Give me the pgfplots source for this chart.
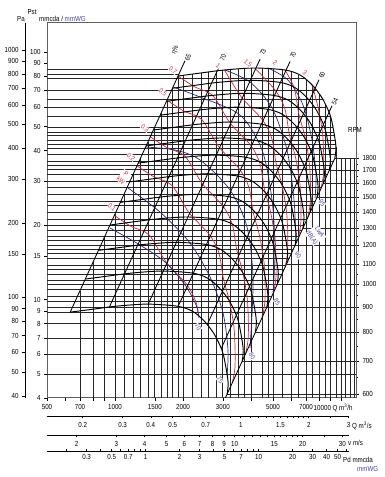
\documentclass[border=0pt]{standalone}
\usepackage{pgfplots}
\pgfplotsset{compat=1.18}
\usepackage{fontspec}
\setmainfont{Liberation Sans}[FakeStretch=0.85]
\definecolor{kwred}{RGB}{205,40,60}
\definecolor{dbblue}{RGB}{40,40,115}
\definecolor{lblue}{RGB}{70,70,150}
\definecolor{framec}{RGB}{95,95,95}
\pgfplotsset{
  gridl/.style={black!85, line width=0.7pt, forget plot, unbounded coords=jump},
  fanc/.style={black, line width=0.95pt, smooth, tension=0.5, forget plot},
  effl/.style={black, line width=0.85pt, forget plot},
  kwc/.style={kwred, line width=0.7pt, smooth, tension=0.5, forget plot},
  dbc/.style={dbblue, line width=0.7pt, smooth, tension=0.5, forget plot},
}
\tikzset{
  lab/.style={font=\fontsize{6.8}{7.2}\selectfont, inner sep=0.4pt, fill=white},
  kwlab/.style={lab, text=kwred, rotate=-40},
  efflab/.style={lab, text=black, rotate=65},
  dblab/.style={lab, text=lblue, rotate=-55},
  txt/.style={font=\fontsize{7.3}{8}\selectfont, inner sep=0pt},
}
\begin{document}
\begin{tikzpicture}
\path[use as bounding box] (0,0) rectangle (384pt,477pt);
% ---------------- main chart ----------------
\begin{axis}[
  at={(47pt,79pt)}, anchor=south west,
  scale only axis, width=309pt, height=375pt,
  xmode=log, ymode=log,
  xmin=500, xmax=11652, ymin=4, ymax=131,
  axis line style={framec, line width=1pt},
  tick pos=left, tick align=outside,
  major tick length=3pt,
  tick style={black, line width=0.6pt},
  xtick={500,600,700,800,900,1000,1500,2000,3000,4000,5000,6000,7000,8000,9000,10000},
  xticklabels={500,,700,,,1000,1500,2000,3000,,5000,,7000,,,},
  ytick={4,5,6,7,8,9,10,15,20,30,40,50,60,70,80,90,100},
  yticklabels={4,5,6,7,8,9,10,15,20,30,40,50,60,70,80,90,100},
  tick label style={font=\fontsize{7.3}{8}\selectfont},
  clip=false,
]
% horizontal pressure grid
\addplot[gridl] coordinates {
(500,85)(1780,85) (nan,nan) (500,81.5)(1918,81.5) (nan,nan) (500,78)(6911,78) (nan,nan)
(500,70)(7785,70) (nan,nan) (500,64.5)(8293,64.5) (nan,nan) (500,60)(8620,60) (nan,nan)
(500,55)(8972,55) (nan,nan) (500,49.5)(9221,49.5) (nan,nan) (500,47.5)(9312,47.5) (nan,nan)
(500,46)(9358,46) (nan,nan) (500,44)(9420,44) (nan,nan) (500,42.5)(9467,42.5) (nan,nan)
(500,41)(9497,41) (nan,nan) (500,38.5)(9436,38.5) (nan,nan) (500,36)(9242,36) (nan,nan)
(500,35)(9112,35) (nan,nan) (500,33.5)(8915,33.5) (nan,nan) (500,32)(8713,32) (nan,nan)
(500,30)(8436,30) (nan,nan) (500,28.5)(8223,28.5) (nan,nan) (500,26.5)(7929,26.5) (nan,nan)
(500,25)(7701,25) (nan,nan) (500,24)(7546,24) (nan,nan) (500,22.5)(7306,22.5) (nan,nan)
(500,21)(7058,21) (nan,nan) (500,20)(6888,20) (nan,nan) (500,19)(6714,19) (nan,nan)
(500,18)(6535,18) (nan,nan) (500,17.3)(6406,17.3) (nan,nan) (500,16.6)(6276,16.6) (nan,nan)
(500,16)(6161,16) (nan,nan) (500,15.3)(6025,15.3) (nan,nan) (500,14.6)(5885,14.6) (nan,nan)
(500,13.8)(5722,13.8) (nan,nan) (500,13.2)(5596,13.2) (nan,nan) (500,12.6)(5467,12.6) (nan,nan)
(500,12)(5336,12) (nan,nan) (500,11.5)(5223,11.5) (nan,nan) (500,11)(5109,11) (nan,nan)
(500,10.3)(4943,10.3) (nan,nan) (500,9.8)(4822,9.8) (nan,nan) (500,9.3)(4697,9.3) (nan,nan)
(500,8.9)(4595,8.9) (nan,nan) (500,8)(4357,8) (nan,nan) (500,7)(4075,7) (nan,nan)
(500,6)(3773,6) (nan,nan) (500,5)(11652,5)
};
% RPM lines to the right scale
\addplot[gridl] coordinates {
(9400,37.3)(11652,37.3) (nan,nan) (8878,33.27)(11652,33.27) (nan,nan) (8356,29.47)(11652,29.47) (nan,nan)
(7833,25.9)(11652,25.9) (nan,nan) (7311,22.56)(11652,22.56) (nan,nan) (6789,19.46)(11652,19.46) (nan,nan)
(6267,16.58)(11652,16.58) (nan,nan) (5744,13.93)(11652,13.93) (nan,nan) (5222,11.51)(11652,11.51) (nan,nan)
(4700,9.33)(11652,9.33) (nan,nan) (4178,7.37)(11652,7.37) (nan,nan) (3656,5.64)(11652,5.64) (nan,nan)
(3133,4.14)(11652,4.14)
};
% vertical flow grid
\addplot[gridl] coordinates {
(700,4)(700,10.86) (nan,nan) (800,4)(800,14.18) (nan,nan) (900,4)(900,17.95) (nan,nan)
(1000,4)(1000,22.16) (nan,nan) (1100,4)(1100,26.81) (nan,nan) (1200,4)(1200,31.91) (nan,nan)
(1300,4)(1300,37.45) (nan,nan) (1400,4)(1400,43.43) (nan,nan) (1500,4)(1500,49.86) (nan,nan)
(1600,4)(1600,56.73) (nan,nan) (1700,4)(1700,64.04) (nan,nan) (1800,4)(1800,71.8) (nan,nan)
(1900,4)(1900,80) (nan,nan) (2000,4)(2000,80.5) (nan,nan) (2200,4)(2200,81.4) (nan,nan)
(2400,4)(2400,82.3) (nan,nan) (2600,4)(2600,83) (nan,nan) (2800,4)(2800,83.7) (nan,nan)
(3000,4)(3000,84.4) (nan,nan) (3250,4)(3250,84.9) (nan,nan) (3500,4)(3500,85.3) (nan,nan)
(3750,4)(3750,85.6) (nan,nan) (4000,4)(4000,86) (nan,nan) (4500,4)(4500,85.9) (nan,nan)
(4750,4)(4750,85.8) (nan,nan) (5000,4)(5000,85.5) (nan,nan) (5500,4)(5500,84.9) (nan,nan)
(6000,4)(6000,83.2) (nan,nan) (6500,4)(6500,81.1) (nan,nan) (7000,4)(7000,77.4) (nan,nan)
(7500,4)(7500,73.1) (nan,nan) (8000,4)(8000,67.8) (nan,nan) (8500,4)(8500,61.8) (nan,nan)
(9000,4)(9000,54.5) (nan,nan) (9500,4)(9500,41.3) (nan,nan) (10000,4)(10000,37.3) (nan,nan)
(10500,4)(10500,37.3) (nan,nan) (11000,4)(11000,37.3) (nan,nan) (11500,4)(11500,37.3)
};
% power curves (kW)
\addplot[kwc] coordinates {(993,21.87) (1176,19.76) (1416,18.23) (1683,14.17) (2081,11.48) (2288,9.70) (2342,8.57)};
\addplot[kwc] coordinates {(1251,34.70) (1482,31.37) (1784,28.93) (2120,22.50) (2623,18.23) (2883,15.40) (3021,12.10) (3208,9.86) (3354,7.83) (3398,6.34) (3391,5.26) (3304,4.61)};
\addplot[kwc] coordinates {(1432,45.47) (1696,41.12) (2042,37.91) (2427,29.48) (3002,23.88) (3300,20.18) (3458,15.86) (3673,12.92) (3840,10.25) (3890,8.31) (3882,6.90) (3784,6.04)};
\addplot[kwc] coordinates {(1698,63.93) (2011,57.81) (2421,53.30) (2878,41.44) (3560,33.58) (3912,28.36) (4100,22.29) (4355,18.17) (4553,14.41) (4613,11.69) (4601,9.69) (4486,8.49)};
\addplot[kwc] coordinates {(1900,80) (2250,72.32) (2708,66.70) (3219,51.86) (3982,42.01) (4377,35.49) (4586,27.89) (4871,22.73) (5092,18.03) (5160,14.62) (5147,12.12) (5018,10.63)};
\addplot[kwc] coordinates {(3050,84.6) (3625,65.78) (4484,53.30) (4930,45.02) (5166,35.39) (5487,28.84) (5735,22.87) (5812,18.55) (5798,15.38) (5651,13.48)};
\addplot[kwc] coordinates {(4150,86.2) (5134,69.84) (5643,58.99) (5913,46.37) (6281,37.79) (6565,29.97) (6653,24.31) (6637,20.16) (6470,17.67)};
\addplot[kwc] coordinates {(5650,84.6) (6211,71.46) (6508,56.17) (6914,45.80) (7226,36.31) (7323,29.45) (7306,24.42) (7122,21.41)};
\addplot[kwc] coordinates {(7450,73.6) (7913,59.98) (8272,47.58) (8381,38.58) (8363,32.00) (8152,28.05)};
% noise curves (LwA dB(A))
\addplot[dbc] coordinates {(950,19.45) (1290,16.6) (1665,14.17) (2041,11.45) (2283,9.50) (2354,8.42)};
\addplot[dbc] coordinates {(1142,28.22) (1582,22.56) (2147,16.91) (2633,12.33) (3006,8.82) (3162,6.25) (3131,4.95)};
\addplot[dbc] coordinates {(1358,41.32) (1843,40.18) (2378,36.62) (3227,27.70) (3838,19.63) (4081,11.99) (3957,6.37)};
\addplot[dbc] coordinates {(1806,72.21) (2378,65.79) (3573,55.65) (4473,40.18) (4952,25.23) (5106,15.85) (5003,10.72)};
\addplot[dbc] coordinates {(3068,84.58) (3957,75.65) (4952,59.39) (5768,40.18) (6195,25.23) (6322,16.91)};
\addplot[dbc] coordinates {(4755,86.16) (5827,77.07) (6789,61.07) (7443,44.10) (7753,31.84) (7674,25.71)};
% efficiency (system) lines
\addplot[effl] coordinates {(633.3,8.89) (2041,92.3)};
\addplot[effl] coordinates {(942.3,9.29) (2916,88.9)};
\addplot[effl] coordinates {(1402,9.58) (4382,93.6)};
\addplot[effl] coordinates {(1903,9.38) (5949,91.6)};
\addplot[effl] coordinates {(2558,7.92) (7994,77.3)};
\addplot[effl] coordinates {(2950,6.34) (9126,60.7)};
\addplot[effl] coordinates {(3078,4) (9400,37.3)};
% fan curves 1800 ... 600 rpm
\addplot[fanc] coordinates {(1900,80) (2400,82.3) (3050,84.6) (4150,86.2) (5650,84.6) (6600,80.7) (7450,73.6) (8250,65.2) (8950,55.7) (9300,47.5) (9500,41.3) (9400,37.3)};
\addplot[fanc] coordinates {(1794,71.36) (2267,73.41) (2881,75.46) (3919,76.89) (5336,75.46) (6233,71.98) (7036,65.65) (7792,58.16) (8453,49.68) (8783,42.37) (8972,36.84) (8878,33.27)};
\addplot[fanc] coordinates {(1689,63.21) (2133,65.03) (2711,66.84) (3689,68.11) (5022,66.84) (5867,63.76) (6622,58.15) (7333,51.51) (7956,44.01) (8267,37.53) (8444,32.63) (8356,29.47)};
\addplot[fanc] coordinates {(1583,55.56) (2000,57.15) (2542,58.75) (3458,59.86) (4708,58.75) (5500,56.04) (6208,51.11) (6875,45.28) (7458,38.68) (7750,32.99) (7917,28.68) (7833,25.90)};
\addplot[fanc] coordinates {(1478,48.39) (1867,49.78) (2372,51.18) (3228,52.15) (4394,51.18) (5133,48.82) (5794,44.52) (6417,39.44) (6961,33.69) (7233,28.73) (7389,24.98) (7311,22.56)};
\addplot[fanc] coordinates {(1372,41.73) (1733,42.93) (2203,44.13) (2997,44.96) (4081,44.13) (4767,42.09) (5381,38.39) (5958,34.01) (6464,29.05) (6717,24.78) (6861,21.54) (6789,19.46)};
\addplot[fanc] coordinates {(1267,35.56) (1600,36.58) (2033,37.60) (2767,38.31) (3767,37.60) (4400,35.87) (4967,32.71) (5500,28.98) (5967,24.76) (6200,21.11) (6333,18.36) (6267,16.58)};
\addplot[fanc] coordinates {(1161,29.88) (1467,30.74) (1864,31.60) (2536,32.20) (3453,31.60) (4033,30.14) (4553,27.49) (5042,24.35) (5469,20.80) (5683,17.74) (5806,15.43) (5744,13.93)};
\addplot[fanc] coordinates {(1056,24.69) (1333,25.40) (1694,26.11) (2306,26.60) (3139,26.11) (3667,24.90) (4139,22.71) (4583,20.12) (4972,17.19) (5167,14.66) (5278,12.75) (5222,11.51)};
\addplot[fanc] coordinates {(950,20.0) (1200,20.58) (1525,21.15) (2075,21.55) (2825,21.15) (3300,20.18) (3725,18.4) (4125,16.3) (4475,13.93) (4650,11.88) (4750,10.33) (4700,9.33)};
\addplot[fanc] coordinates {(844,15.80) (1067,16.25) (1356,16.71) (1844,17.02) (2511,16.71) (2933,15.94) (3311,14.54) (3667,12.88) (3978,11.0) (4133,9.38) (4222,8.16) (4178,7.37)};
\addplot[fanc] coordinates {(739,12.10) (933,12.44) (1186,12.79) (1614,13.03) (2197,12.79) (2567,12.20) (2897,11.13) (3208,9.86) (3481,8.42) (3617,7.18) (3694,6.24) (3656,5.64)};
\addplot[fanc] coordinates {(633,8.89) (800,9.14) (1017,9.40) (1383,9.58) (1883,9.40) (2200,8.97) (2483,8.18) (2750,7.24) (2983,6.19) (3100,5.28) (3167,4.59) (3133,4.14)};
% labels
\node[kwlab] at (1806,84.6) {0.7};
\node[kwlab] at (1631,68.9) {0.5};
\node[kwlab] at (1357,49.3) {0.3};
\node[kwlab] at (1177,37.7) {0.2};
\node[kwlab, align=center] at (1090,31.2) {P\\[1pt]kW};
\node[kwlab] at (970,23.6) {0.1};
\node[kwlab] at (2856,87.8) {1};
\node[kwlab] at (3877,90.3) {1.5};
\node[kwlab] at (5105,90.3) {2};
\node[kwlab] at (6928,82.3) {3};
\node[efflab] at (1850,101.5) {η\%};
\node[efflab] at (2104,94.6) {65};
\node[efflab] at (3006,94.6) {70};
\node[efflab] at (4518,100) {73};
\node[efflab] at (6133,97.2) {70};
\node[efflab] at (8241,80.7) {60};
\node[efflab] at (9408,62.9) {54};
\node[dblab] at (8241,24.6) {95};
\node[dblab] at (6453,15.1) {90};
\node[dblab] at (5211,9.77) {85};
\node[dblab] at (4040,5.91) {80};
\node[dblab] at (2914,4.73) {75};
\node[dblab] at (2330,7.74) {70};
\node[dblab, align=center] at (7700,18.2) {LwA\\[2pt]dB(A)};
\end{axis}
% ---------------- RPM scale ----------------
\begin{axis}[
  at={(47pt,79pt)}, anchor=south west,
  scale only axis, width=309pt, height=375pt,
  ymode=log, ymin=589.4, ymax=3373.3, xmin=0, xmax=1,
  axis x line=none, axis y line*=right,
  axis line style={framec, line width=1pt},
  tick align=outside, major tick length=3pt, minor tick length=1.6pt,
  tick style={black, line width=0.6pt},
  ytick={600,700,800,900,1000,1100,1200,1300,1400,1500,1600,1700,1800},
  yticklabels={600,700,800,900,1000,1100,1200,1300,1400,1500,1600,1700,1800},
  minor ytick={650,750,850,950,1050,1150,1250,1350,1450,1550,1650,1750},
  tick label style={font=\fontsize{7.3}{8}\selectfont},
]
\end{axis}
% ---------------- Pa scale ----------------
\begin{axis}[
  at={(25pt,79pt)}, anchor=south west,
  scale only axis, width=1pt, height=375pt,
  ymode=log, ymin=39.2266, ymax=1284.67, xmin=0, xmax=1,
  axis x line=none, axis y line*=left,
  axis line style={black, line width=0.9pt},
  tick align=outside, major tick length=3pt,
  tick style={black, line width=0.6pt},
  ytick={40,50,60,70,80,90,100,150,200,300,400,500,600,700,800,900,1000},
  yticklabels={40,50,60,70,80,90,100,150,200,300,400,500,600,700,800,900,1000},
  tick label style={font=\fontsize{7.3}{8}\selectfont},
]
\end{axis}
% ---------------- Q m3/s ----------------
\begin{axis}[
  at={(47pt,61pt)}, anchor=south west,
  scale only axis, width=302pt, height=1pt,
  xmode=log, xmin=0.138889, xmax=3.01389, ymin=0, ymax=1,
  axis y line=none, axis x line*=bottom,
  axis line style={black, line width=0.9pt},
  tick align=outside, major tick length=2.5pt,
  tick style={black, line width=0.6pt},
  xtick={0.2,0.3,0.4,0.5,0.6,0.7,0.8,0.9,1,1.1,1.2,1.3,1.4,1.5,1.6,1.7,1.8,1.9,2,2.5,3},
  xticklabels={0.2,0.3,0.4,0.5,,0.7,,,1,,,,,1.5,,,,,2,,3},
  tick label style={font=\fontsize{7.3}{8}\selectfont},
]
\end{axis}
% ---------------- v m/s ----------------
\begin{axis}[
  at={(47pt,42pt)}, anchor=south west,
  scale only axis, width=302pt, height=1pt,
  xmode=log, xmin=1.4793, xmax=32.10, ymin=0, ymax=1,
  axis y line=none, axis x line*=bottom,
  axis line style={black, line width=0.9pt},
  tick align=outside, major tick length=2.5pt,
  tick style={black, line width=0.6pt},
  xtick={2,3,4,5,6,7,8,9,10,11,12,13,14,15,16,17,18,19,20,25,30},
  xticklabels={2,3,4,5,6,7,8,9,10,,,,,15,,,,,20,,30},
  tick label style={font=\fontsize{7.3}{8}\selectfont},
]
\end{axis}
% ---------------- Pd ----------------
\begin{axis}[
  at={(47pt,26pt)}, anchor=south west,
  scale only axis, width=302pt, height=1pt,
  xmode=log, xmin=0.13385, xmax=63.03, ymin=0, ymax=1,
  axis y line=none, axis x line*=bottom,
  axis line style={black, line width=0.9pt},
  tick align=inside, major tick length=2.5pt,
  tick style={black, line width=0.6pt},
  xtick={0.2,0.3,0.4,0.5,0.6,0.7,0.8,0.9,1,2,3,4,5,6,7,8,9,10,20,30,40,50,60},
  xticklabels={,0.3,,0.5,,0.7,,,1,2,3,,5,,7,,,10,20,30,40,50,},
  tick label style={font=\fontsize{7.3}{8}\selectfont},
]
\end{axis}
% ---------------- free texts ----------------
\node[txt] at (32pt,465pt) {Pst};
\node[txt] at (21pt,458pt) {Pa};
\node[txt, anchor=west] at (39pt,458pt) {mmcda / {\color{lblue}mmWG}};
\node[txt] at (355pt,347pt) {RPM};
\node[txt, anchor=west, fill=white, inner sep=0.5pt] at (313pt,69pt) {10000 Q m\textsuperscript{3}/h};
\node[txt, anchor=west] at (352pt,51pt) {Q m\textsuperscript{3}/s};
\node[txt, anchor=west] at (348pt,34pt) {v m/s};
\node[txt, anchor=west] at (343pt,17pt) {Pd mmcda};
\node[txt, anchor=west] at (357pt,8pt) {\color{lblue}mmWG};
\end{tikzpicture}
\end{document}
